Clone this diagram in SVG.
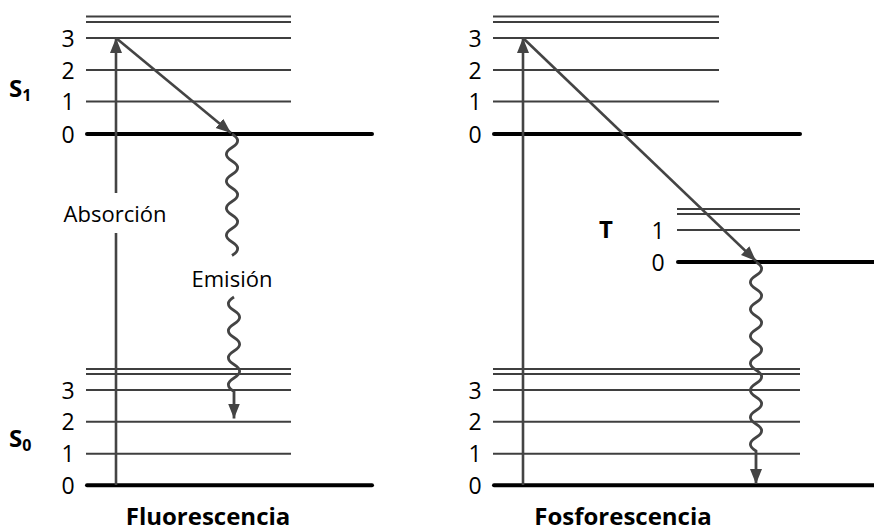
<svg xmlns="http://www.w3.org/2000/svg" width="874" height="531" viewBox="0 0 874 531">
<style>
.thin{stroke:#3f3f3f;stroke-width:2;fill:none}
.thick{stroke:#000;stroke-width:4;stroke-linecap:round;fill:none}
.arr{stroke:#444;stroke-width:2.6;fill:none}
.wave{stroke:#444;stroke-width:2.8;fill:none}
.num{font-family:"Open Sans","Noto Sans",sans-serif;font-size:23px;fill:#000;text-anchor:middle}
.lab{font-family:"Open Sans","Noto Sans",sans-serif;font-size:22px;fill:#000;text-anchor:middle}
.bold{font-family:"Open Sans","Noto Sans",sans-serif;font-size:24px;font-weight:bold;fill:#000}
.title{font-family:"Open Sans","Noto Sans",sans-serif;font-size:24px;font-weight:bold;fill:#000;text-anchor:middle}
</style>
<defs>
<marker id="ah" markerUnits="userSpaceOnUse" markerWidth="17" markerHeight="13" refX="15" refY="6" orient="auto">
<path d="M0,0 L15,6 L0,12 z" fill="#444"/>
</marker>
</defs>

<g id="fluorescencia-S1">
<line class="thin" x1="86" y1="16.5" x2="291" y2="16.5"/>
<line class="thin" x1="86" y1="22" x2="291" y2="22"/>
<line class="thin" x1="86" y1="38" x2="291" y2="38"/>
<line class="thin" x1="86" y1="70" x2="291" y2="70"/>
<line class="thin" x1="86" y1="101.5" x2="291" y2="101.5"/>
<line class="thick" x1="87" y1="134" x2="372" y2="134"/>
<text class="num" x="68" y="46.5">3</text>
<text class="num" x="68" y="78.5">2</text>
<text class="num" x="68" y="110">1</text>
<text class="num" x="68" y="142.5">0</text>
<text class="bold" x="9" y="97">S<tspan font-size="16" dy="4">1</tspan></text>
</g>

<g id="fluorescencia-S0">
<line class="thin" x1="86" y1="369" x2="291" y2="369"/>
<line class="thin" x1="86" y1="374" x2="291" y2="374"/>
<line class="thin" x1="86" y1="390" x2="291" y2="390"/>
<line class="thin" x1="86" y1="421.7" x2="291" y2="421.7"/>
<line class="thin" x1="86" y1="453.7" x2="291" y2="453.7"/>
<line class="thick" x1="87" y1="485.3" x2="372" y2="485.3"/>
<text class="num" x="68" y="398.5">3</text>
<text class="num" x="68" y="430">2</text>
<text class="num" x="68" y="462">1</text>
<text class="num" x="68" y="494">0</text>
<text class="bold" x="9" y="447">S<tspan font-size="16" dy="4">0</tspan></text>
<text class="title" x="208" y="525">Fluorescencia</text>
</g>

<g id="fosforescencia-S1">
<line class="thin" x1="493" y1="16.5" x2="719" y2="16.5"/>
<line class="thin" x1="493" y1="22" x2="719" y2="22"/>
<line class="thin" x1="493" y1="38" x2="719" y2="38"/>
<line class="thin" x1="493" y1="70" x2="719" y2="70"/>
<line class="thin" x1="493" y1="101.5" x2="719" y2="101.5"/>
<line class="thick" x1="494" y1="134" x2="800" y2="134"/>
<text class="num" x="475" y="46.5">3</text>
<text class="num" x="475" y="78.5">2</text>
<text class="num" x="475" y="110">1</text>
<text class="num" x="475" y="142.5">0</text>
</g>

<g id="fosforescencia-T">
<line class="thin" x1="677" y1="209" x2="800" y2="209"/>
<line class="thin" x1="677" y1="214" x2="800" y2="214"/>
<line class="thin" x1="677" y1="230" x2="800" y2="230"/>
<line class="thick" x1="678" y1="262" x2="876" y2="262"/>
<text class="num" x="658" y="238.5">1</text>
<text class="num" x="658" y="270.5">0</text>
<text class="bold" x="599" y="238">T</text>
</g>

<g id="fosforescencia-S0">
<line class="thin" x1="493" y1="369" x2="800" y2="369"/>
<line class="thin" x1="493" y1="374" x2="800" y2="374"/>
<line class="thin" x1="493" y1="390" x2="800" y2="390"/>
<line class="thin" x1="493" y1="421.7" x2="800" y2="421.7"/>
<line class="thin" x1="493" y1="453.7" x2="800" y2="453.7"/>
<line class="thick" x1="494" y1="485.3" x2="876" y2="485.3"/>
<text class="num" x="475" y="398.5">3</text>
<text class="num" x="475" y="430">2</text>
<text class="num" x="475" y="462">1</text>
<text class="num" x="475" y="494">0</text>
<text class="title" x="623" y="525">Fosforescencia</text>
</g>

<g id="connectors">
<line class="arr" x1="116" y1="485" x2="116" y2="233"/>
<line class="arr" x1="116" y1="193" x2="116" y2="38" marker-end="url(#ah)"/>
<text class="lab" x="115" y="222">Absorción</text>
<line class="arr" x1="116" y1="38" x2="231" y2="133" marker-end="url(#ah)"/>
<path class="wave" d="M232,134 c 7.5,4.5 7.5,9 0,13.5 s -7.5,9 0,13.5 s 7.5,9 0,13.5 s -7.5,9 0,13.5 s 7.5,9 0,13.5 s -7.5,9 0,13.5 s 7.5,9 0,13.5 s -7.5,9 0,13.5 s 7.5,9 0,13.5"/>
<text class="lab" x="232" y="287">Emisión</text>
<path class="wave" d="M234,297 c -7.5,4.5 -7.5,9 0,13.5 s 7.5,9 0,13.5 s -7.5,9 0,13.5 s 7.5,9 0,13.5 s -7.5,9 0,13.5 s 7.5,9 0,13.5 s -7.5,9 0,13.5 l 0,27" marker-end="url(#ah)"/>
<line class="arr" x1="523" y1="485" x2="523" y2="38" marker-end="url(#ah)"/>
<line class="arr" x1="523" y1="38" x2="756" y2="261" marker-end="url(#ah)"/>
<path class="wave" d="M756,262 c 7.5,4.5 7.5,9 0,13.5 s -7.5,9 0,13.5 s 7.5,9 0,13.5 s -7.5,9 0,13.5 s 7.5,9 0,13.5 s -7.5,9 0,13.5 s 7.5,9 0,13.5 s -7.5,9 0,13.5 s 7.5,9 0,13.5 s -7.5,9 0,13.5 s 7.5,9 0,13.5 s -7.5,9 0,13.5 s 7.5,9 0,13.5 s -7.5,9 0,13.5 l 0,33" marker-end="url(#ah)"/>
</g>
</svg>
